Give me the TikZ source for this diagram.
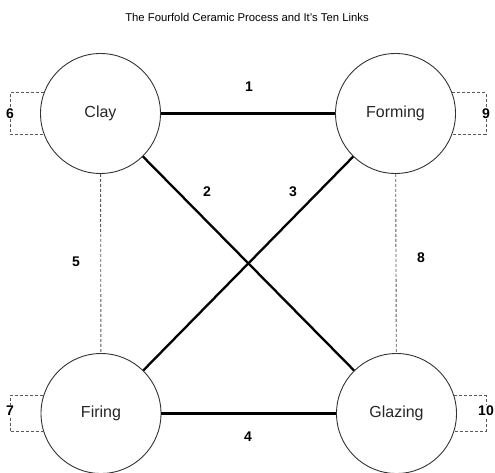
\documentclass[tikz,border=0pt]{standalone}
\usepackage{fontspec}
\setmainfont{Liberation Sans}
\begin{document}
\begin{tikzpicture}[x=1pt,y=-1pt,
  stage/.style={circle,draw=black!80,line width=0.9pt,minimum size=120pt,inner sep=0pt,font=\fontsize{16}{18}\selectfont,text=black!85},
  link/.style={line width=2.3pt,black},
  weak/.style={draw=black!65,line width=0.9pt,dash pattern=on 3pt off 2pt},
  num/.style={font=\bfseries\fontsize{14}{16}\selectfont,inner sep=1pt},
  numbg/.style={num,fill=white}]
\useasboundingbox (0,0) rectangle (495,473);
\node[font=\fontsize{11.3}{13}\selectfont,text=black] (title) at (247,17) {The Fourfold Ceramic Process and It's Ten Links};
\node[stage] (clay) at (100.5,113.5) {Clay};
\node[stage] (forming) at (395.5,113.5) {Forming};
\node[stage] (firing) at (101,413.5) {Firing};
\node[stage] (glazing) at (396.5,413.5) {Glazing};
% solid links
\draw[link] (clay) -- (forming);
\draw[link] (firing) -- (glazing);
\draw[link] (clay) -- (glazing);
\draw[link] (forming) -- (firing);
\node[num] (n1) at (249,87) {1};
\node[num] (n4) at (248,436.5) {4};
\node[num] (n2) at (207,192) {2};
\node[num] (n3) at (293,192) {3};
% dashed links
\draw[weak] (clay) -- (firing);
\draw[weak] (forming) -- (glazing);
\node[num] (n5) at (76,262) {5};
\node[num] (n8) at (421,258) {8};
% self loops
\coordinate (l6) at (10,113.5);
\coordinate (l9) at (486,113.5);
\coordinate (l7) at (10,411);
\coordinate (l10) at (486,411);
\draw[weak] (clay.160) -| (l6) |- (clay.200);
\draw[weak] (forming.20) -| (l9) |- (forming.340);
\draw[weak] (firing.163) -| (l7) |- (firing.197);
\draw[weak] (glazing.17) -| (l10) |- (glazing.343);
\node[numbg] (n6) at (l6) {6};
\node[numbg] (n9) at (l9) {9};
\node[numbg] (n7) at (l7) {7};
\node[numbg] (n10) at (l10) {10};
\end{tikzpicture}
\end{document}
